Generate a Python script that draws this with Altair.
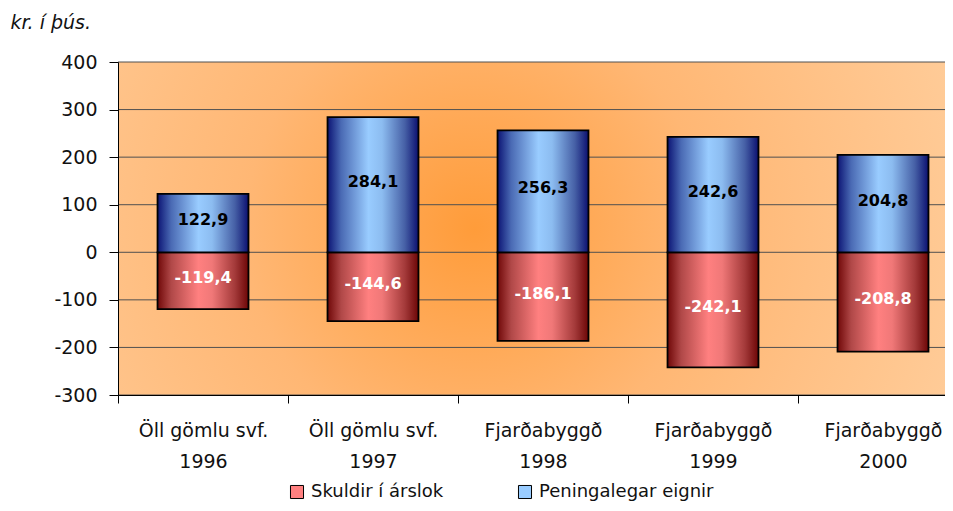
import altair as alt
import pandas as pd

# ---- data ----
names = ["Öll gömlu svf.", "Öll gömlu svf.", "Fjarðabyggð", "Fjarðabyggð", "Fjarðabyggð"]
years = ["1996", "1997", "1998", "1999", "2000"]
assets = [122.9, 284.1, 256.3, 242.6, 204.8]      # Peningalegar eignir
debts = [-119.4, -144.6, -186.1, -242.1, -208.8]  # Skuldir í árslok
series = ["Skuldir í árslok", "Peningalegar eignir"]
y_ticks = [-300, -200, -100, 0, 100, 200, 300, 400]

cats = [f"{n}|{y}" for n, y in zip(names, years)]


def fmt(v):
    return f"{v:.1f}".replace(".", ",")


pos_df = pd.DataFrame({"cat": cats, "value": assets, "label": [fmt(v) for v in assets]})
neg_df = pd.DataFrame({"cat": cats, "value": debts, "label": [fmt(v) for v in debts]})
grid_df = pd.DataFrame({"v": y_ticks})
leg_df = pd.DataFrame({"series": series})

FONT = "DejaVu Sans"
W, H = 827, 333          # visible plot area (page is 937 px wide inside its margins)
FULLW = 850              # full band range; the part past the page edge is cut off
PAD_IN = 0.465
STEP = FULLW / len(cats)
HALF_GAP = PAD_IN * STEP / 2

x_scale = alt.Scale(domain=cats, range=[0, FULLW], paddingInner=PAD_IN, paddingOuter=PAD_IN / 2)
y_scale = alt.Scale(domain=[-300, 400], nice=False, zero=False)

blue_grad = alt.LinearGradient(
    gradient="linear", x1=0, y1=0, x2=1, y2=0,
    stops=[
        alt.GradientStop(offset=0.0, color="#0c1474"),
        alt.GradientStop(offset=0.15, color="#4a6ab4"),
        alt.GradientStop(offset=0.45, color="#99ccff"),
        alt.GradientStop(offset=0.6, color="#8cbcf0"),
        alt.GradientStop(offset=0.85, color="#4660a6"),
        alt.GradientStop(offset=1.0, color="#0c1070"),
    ],
)
red_grad = alt.LinearGradient(
    gradient="linear", x1=0, y1=0, x2=1, y2=0,
    stops=[
        alt.GradientStop(offset=0.0, color="#700808"),
        alt.GradientStop(offset=0.15, color="#b04848"),
        alt.GradientStop(offset=0.45, color="#ff8080"),
        alt.GradientStop(offset=0.6, color="#f07878"),
        alt.GradientStop(offset=0.85, color="#a43a3a"),
        alt.GradientStop(offset=1.0, color="#6c0606"),
    ],
)
bg_grad = alt.RadialGradient(
    gradient="radial", x1=0.42, y1=0.5, r1=0, x2=0.42, y2=0.5, r2=0.6,
    stops=[
        alt.GradientStop(offset=0.0, color="#ff9c3a"),
        alt.GradientStop(offset=0.45, color="#ffb774"),
        alt.GradientStop(offset=1.0, color="#ffcc99"),
    ],
)

x_axis = alt.Axis(
    title=None, labelAngle=0, labelAlign="center", labelFontSize=19, labelFont=FONT,
    labelColor="#111", labelExpr="split(datum.label, '|')", labelLineHeight=31,
    labelPadding=18, bandPosition=0, tickExtra=False, tickOffset=-HALF_GAP,
    labelOffset=HALF_GAP, tickSize=8, tickColor="#000", domainColor="#000",
    domainWidth=1, grid=False, zindex=1, labelBaseline="top",
)
y_axis = alt.Axis(
    values=y_ticks, grid=False, tickSize=9, tickColor="#000", domainColor="#000",
    labelExpr="replace(datum.label, '\u2212', '-')",
    labelFontSize=19, labelFont=FONT, labelColor="#111", labelPadding=12, zindex=1,
    title="kr. í þús.", titleAngle=0, titleFont=FONT, titleFontSize=19,
    titleFontStyle="italic", titleFontWeight="normal", titleAlign="left",
    titleBaseline="middle", titleX=-108, titleY=-40, titleColor="#111",
)

background = alt.Chart(pd.DataFrame({"a": [0]})).mark_rect(color=bg_grad).encode(
    x=alt.value(0), x2=alt.value(FULLW), y=alt.value(0), y2=alt.value(H)
)

grid = alt.Chart(grid_df).mark_rule(color="#505050", strokeWidth=1).encode(
    y=alt.Y("v:Q", scale=y_scale, axis=y_axis),
    x=alt.value(0), x2=alt.value(FULLW),
)

pos_bars = alt.Chart(pos_df).mark_bar(color=blue_grad, stroke="#000", strokeWidth=1.8).encode(
    x=alt.X("cat:N", scale=x_scale, axis=x_axis, sort=cats),
    y=alt.Y("value:Q", scale=y_scale),
    y2=alt.datum(0),
)
neg_bars = alt.Chart(neg_df).mark_bar(color=red_grad, stroke="#000", strokeWidth=1.8).encode(
    x=alt.X("cat:N", scale=x_scale, sort=cats),
    y=alt.Y("value:Q", scale=y_scale),
    y2=alt.datum(0),
)

pos_text = alt.Chart(pos_df).transform_calculate(mid="datum.value / 2").mark_text(
    font=FONT, fontSize=16, fontWeight="bold", color="#000", baseline="middle", dy=-3
).encode(
    x=alt.X("cat:N", scale=x_scale, sort=cats, bandPosition=0.5),
    y=alt.Y("mid:Q", scale=y_scale),
    text="label:N",
)
neg_text = alt.Chart(neg_df).transform_calculate(mid="datum.value / 2").mark_text(
    font=FONT, fontSize=16, fontWeight="bold", color="#fff", baseline="middle", dy=-3
).encode(
    x=alt.X("cat:N", scale=x_scale, sort=cats, bandPosition=0.5),
    y=alt.Y("mid:Q", scale=y_scale),
    text="label:N",
)

legend_layer = alt.Chart(leg_df).mark_square(opacity=0).encode(
    x=alt.value(0), y=alt.value(0),
    color=alt.Color(
        "series:N",
        scale=alt.Scale(domain=series, range=["#ff8080", "#99ccff"]),
        legend=alt.Legend(
            orient="none", legendX=170, legendY=421, direction="horizontal",
            title=None, symbolType="square", symbolSize=170, symbolOpacity=1,
            symbolStrokeColor="#000", symbolStrokeWidth=1,
            labelFontSize=18, labelFont=FONT, labelColor="#111", labelLimit=400,
            columnPadding=72, labelOffset=5,
        ),
    ),
)

chart = alt.layer(
    background, grid, neg_bars, pos_bars, neg_text, pos_text, legend_layer
).properties(
    width=W, height=H,
    autosize=alt.AutoSizeParams(type="none"),
    padding={"left": 110, "top": 54, "right": 0, "bottom": 108},
).configure_view(stroke=None).configure(background="#ffffff")

chart.save("out.html", embed_options={"renderer": "svg", "actions": False})
